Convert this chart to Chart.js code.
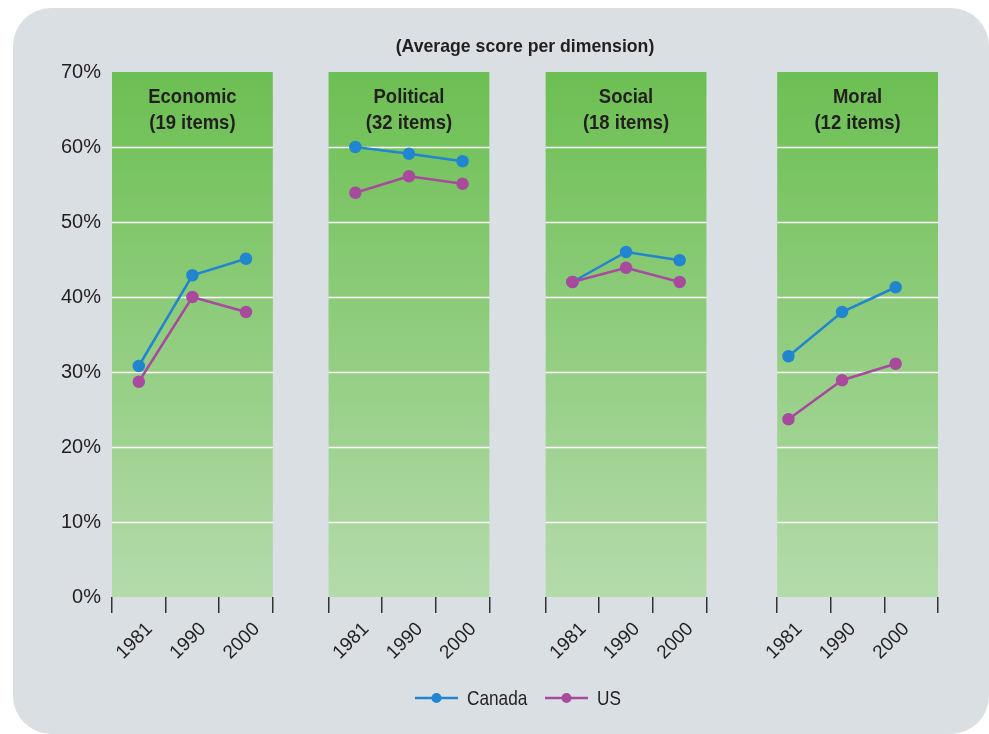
<!DOCTYPE html>
<html>
<head>
<meta charset="utf-8">
<script src="https://cdn.jsdelivr.net/npm/chart.js@4/dist/chart.umd.min.js"></script>
<style>
  html, body { margin: 0; padding: 0; background: #ffffff; }
  #wrap { position: relative; width: 989px; height: 734px; }
</style>
</head>
<body>
<div id="wrap"><canvas id="valuesChart" width="989" height="734"></canvas></div>
<script>
// Average score per dimension, Canada vs US
const years = ['1981', '1990', '2000'];
const dimensions = ['Economic', 'Political', 'Social', 'Moral'];
const itemCounts = [19, 32, 18, 12];
const canadaScores = [
  [30.8, 42.9, 45.1],
  [60.0, 59.1, 58.1],
  [42.0, 46.0, 44.9],
  [32.1, 38.0, 41.3]
];
const usScores = [
  [28.7, 40.0, 38.0],
  [53.9, 56.1, 55.1],
  [42.0, 43.9, 42.0],
  [23.7, 28.9, 31.1]
];

// panel layout on the x scale (one unit per year slot)
const panelStart = [0, 4.04, 8.09, 12.41];
const panelSlots = 3;
const pointShift = [0, 0, 0, -0.29];
const labelNudge = 0.2;

const FONT = '"Liberation Sans Narrow", "Liberation Sans", sans-serif';
const CANADA = '#2185cf';
const US = '#a84a9d';

function seriesPoints(scores) {
  const pts = [];
  scores.forEach((vals, p) => {
    vals.forEach((v, i) => {
      pts.push({ x: panelStart[p] + i + 0.5 + pointShift[p], y: v });
    });
    pts.push({ x: panelStart[p] + panelSlots + 0.5, y: null });
  });
  return pts;
}

// x ticks: boundaries carry the tick marks, centers carry the year labels
const xTicks = [];
dimensions.forEach((d, p) => {
  for (let i = 0; i <= panelSlots; i++) xTicks.push({ value: panelStart[p] + i, label: '' });
  years.forEach((y, i) => {
    xTicks.push({ value: panelStart[p] + i + 0.5 + pointShift[p] + labelNudge, label: y });
  });
});

// text squeezed a little sideways to look condensed
function narrowText(c, text, x, y, squeeze) {
  c.save();
  c.translate(x, y);
  c.scale(squeeze, 1);
  c.fillText(text, 0, 0);
  c.restore();
}

const panelsPlugin = {
  id: 'panels',
  beforeDraw(chart) {
    const c = chart.ctx;
    c.save();
    c.fillStyle = '#dadfe3';
    c.beginPath();
    c.roundRect(13, 8, 976, 726, 38);
    c.fill();
    c.restore();
  },
  beforeDatasetsDraw(chart) {
    const c = chart.ctx;
    const xs = chart.scales.x, ys = chart.scales.y;
    const top = chart.chartArea.top, bottom = chart.chartArea.bottom;
    c.save();
    const grad = c.createLinearGradient(0, top, 0, bottom);
    grad.addColorStop(0, '#6cbf52');
    grad.addColorStop(1, '#b4dbab');
    dimensions.forEach((d, p) => {
      const x0 = xs.getPixelForValue(panelStart[p]);
      const x1 = xs.getPixelForValue(panelStart[p] + panelSlots);
      c.fillStyle = grad;
      c.fillRect(x0, top, x1 - x0, bottom - top);
      c.strokeStyle = '#ffffff';
      c.lineWidth = 1.5;
      for (let v = 10; v < 70; v += 10) {
        const y = Math.round(ys.getPixelForValue(v)) + 0.5;
        c.beginPath();
        c.moveTo(x0, y);
        c.lineTo(x1, y);
        c.stroke();
      }
    });
    c.restore();
  },
  afterDatasetsDraw(chart) {
    const c = chart.ctx;
    const xs = chart.scales.x;
    const area = chart.chartArea;
    c.save();
    c.fillStyle = '#231f20';
    c.textAlign = 'center';
    c.textBaseline = 'middle';
    c.font = 'bold 19px ' + FONT;
    narrowText(c, '(Average score per dimension)', (area.left + area.right) / 2, 47, 0.93);
    c.font = 'bold 21px ' + FONT;
    dimensions.forEach((d, p) => {
      const cx = xs.getPixelForValue(panelStart[p] + panelSlots / 2);
      narrowText(c, d, cx, 97, 0.88);
      narrowText(c, '(' + itemCounts[p] + ' items)', cx, 123, 0.88);
    });

    // legend: line with a dot, then the name
    const entries = [['Canada', CANADA, 415], ['US', US, 545]];
    entries.forEach(([name, color, x]) => {
      const y = 698;
      c.strokeStyle = color;
      c.lineWidth = 2.5;
      c.beginPath();
      c.moveTo(x, y);
      c.lineTo(x + 43, y);
      c.stroke();
      c.fillStyle = color;
      c.beginPath();
      c.arc(x + 21.5, y, 5, 0, Math.PI * 2);
      c.fill();
      c.fillStyle = '#231f20';
      c.textAlign = 'left';
      c.font = '21px ' + FONT;
      narrowText(c, name, x + 52, y + 1, 0.82);
    });
    c.restore();
  }
};

const ctx = document.getElementById('valuesChart').getContext('2d');
const valuesChart = new Chart(ctx, {
  type: 'line',
  data: {
    datasets: [{
      label: 'Canada',
      data: seriesPoints(canadaScores),
      borderColor: CANADA,
      backgroundColor: CANADA,
      borderWidth: 2.5,
      pointRadius: 5,
      pointHoverRadius: 5,
      spanGaps: false,
      order: 2
    }, {
      label: 'US',
      data: seriesPoints(usScores),
      borderColor: US,
      backgroundColor: US,
      borderWidth: 2.5,
      pointRadius: 5,
      pointHoverRadius: 5,
      spanGaps: false,
      order: 1
    }]
  },
  options: {
    responsive: false,
    animation: false,
    layout: { padding: { top: 72, right: 51, left: 0, bottom: 0 } },
    plugins: {
      legend: { display: false },
      title: { display: false },
      tooltip: { enabled: false }
    },
    scales: {
      x: {
        type: 'linear',
        min: 0,
        max: panelStart[3] + panelSlots,
        afterBuildTicks(scale) {
          scale.ticks = xTicks.map(t => ({ value: t.value }));
        },
        afterFit(scale) { scale.height = 137; },
        border: { display: false },
        grid: {
          drawOnChartArea: false,
          drawTicks: true,
          tickLength: 16,
          lineWidth: 1.5,
          color: (c) => (c.tick && xTicks[c.index] && xTicks[c.index].label === '') ? '#333333' : 'rgba(0,0,0,0)'
        },
        ticks: {
          autoSkip: false,
          minRotation: 45,
          maxRotation: 45,
          padding: 5,
          color: '#231f20',
          font: { family: FONT, size: 19 },
          callback: (value, index) => xTicks[index] ? xTicks[index].label : ''
        }
      },
      y: {
        min: 0,
        max: 70,
        afterFit(scale) { scale.width = 112; },
        border: { display: false },
        grid: { display: false, drawTicks: false },
        ticks: {
          stepSize: 10,
          padding: 11,
          color: '#231f20',
          font: { family: FONT, size: 20 },
          callback: (v) => v + '%'
        }
      }
    }
  },
  plugins: [panelsPlugin]
});
</script>
</body>
</html>
